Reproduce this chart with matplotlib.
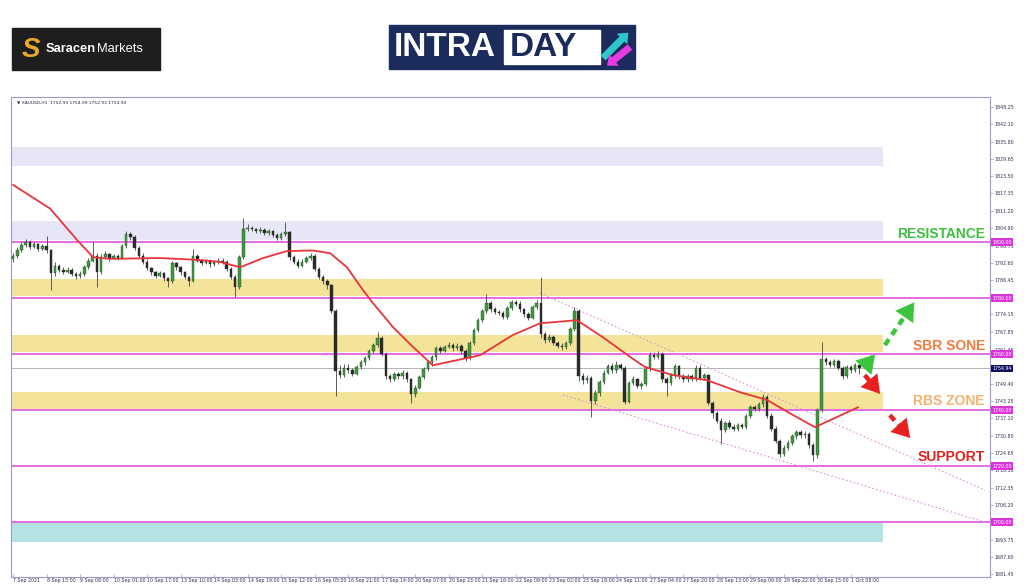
import numpy as np
import matplotlib
matplotlib.use("Agg")
import matplotlib.pyplot as plt
from matplotlib.patches import Rectangle, FancyArrow
from matplotlib import transforms

# ==========
# price data (2h bars)
# ==========
first_open = 1794.0
closes = [
    1795.0, 1797.2, 1799.0, 1800.1, 1798.4, 1799.2, 1797.6, 1798.5, 1797.0, 1789.0,
    1791.5, 1790.2, 1789.4, 1790.0, 1788.6, 1787.8, 1788.5, 1791.0, 1793.4, 1795.2,
    1789.3, 1794.8, 1795.6, 1794.2, 1795.0, 1794.4, 1798.5, 1803.0, 1801.8, 1798.0,
    1795.2, 1793.0, 1790.6, 1789.2, 1788.0, 1788.8, 1787.0, 1786.0, 1792.4, 1791.0,
    1789.2, 1787.4, 1786.2, 1795.2, 1793.4, 1792.6, 1793.2, 1792.0, 1792.8, 1793.4,
    1793.0, 1790.4, 1787.6, 1784.0, 1794.5, 1804.5, 1805.2, 1804.6, 1804.0, 1804.4,
    1803.2, 1803.8, 1802.6, 1801.4, 1802.8, 1803.5, 1794.5, 1793.0, 1791.6, 1793.0,
    1794.2, 1795.0, 1790.5, 1787.6, 1786.0, 1784.6, 1775.5, 1754.0, 1752.6, 1755.0,
    1754.2, 1753.0, 1755.5, 1757.0, 1758.5, 1761.0, 1763.2, 1765.6, 1760.0, 1752.0,
    1751.2, 1752.8, 1752.0, 1753.2, 1751.0, 1745.6, 1748.0, 1751.8, 1754.6, 1757.0,
    1758.8, 1762.0, 1761.2, 1762.6, 1763.4, 1762.0, 1763.0, 1761.0, 1758.6, 1764.0,
    1768.5, 1772.0, 1775.4, 1778.2, 1776.0, 1775.0, 1774.6, 1773.2, 1776.5, 1778.6,
    1778.0, 1776.0, 1774.2, 1773.0, 1776.8, 1778.4, 1767.0, 1765.2, 1766.0, 1764.0,
    1763.0, 1762.6, 1764.0, 1769.0, 1775.4, 1752.2, 1750.6, 1751.4, 1743.2, 1746.0,
    1750.0, 1753.4, 1755.6, 1754.2, 1756.0, 1755.0, 1743.0, 1749.6, 1751.0, 1748.6,
    1749.4, 1754.8, 1759.8, 1759.0, 1760.2, 1751.0, 1749.6, 1752.4, 1755.6, 1752.0,
    1751.0, 1752.0, 1751.2, 1755.2, 1751.6, 1752.4, 1742.6, 1739.0, 1736.2, 1733.0,
    1735.4, 1734.0, 1733.2, 1734.6, 1734.0, 1737.8, 1741.0, 1740.4, 1742.0, 1744.8,
    1738.0, 1733.4, 1729.0, 1724.2, 1726.6, 1728.4, 1730.6, 1732.2, 1731.0, 1731.6,
    1727.4, 1723.8, 1740.0, 1758.2, 1757.0, 1756.2, 1757.4, 1755.0, 1752.0, 1755.4,
    1754.2, 1756.0, 1754.94]
highs = [
    1796.2, 1798.4, 1800.2, 1801.0, 1800.8, 1800.0, 1799.8, 1799.4, 1802.0, 1797.6,
    1793.0, 1792.2, 1791.0, 1791.2, 1790.6, 1789.4, 1789.6, 1791.8, 1794.2, 1800.0,
    1796.0, 1795.6, 1796.8, 1796.2, 1795.8, 1795.6, 1799.2, 1804.0, 1803.6, 1802.4,
    1798.6, 1796.0, 1793.8, 1791.2, 1789.8, 1789.6, 1789.4, 1787.6, 1793.2, 1793.0,
    1791.6, 1789.8, 1788.0, 1797.6, 1795.8, 1794.0, 1794.0, 1793.8, 1793.6, 1794.2,
    1794.2, 1793.6, 1791.0, 1788.2, 1795.4, 1808.6, 1806.4, 1805.8, 1805.2, 1805.4,
    1805.0, 1804.6, 1804.4, 1803.2, 1803.6, 1807.0, 1804.0, 1795.4, 1793.8, 1793.8,
    1795.0, 1796.0, 1795.6, 1791.2, 1788.4, 1786.8, 1785.2, 1776.0, 1756.0, 1756.4,
    1756.6, 1755.0, 1756.2, 1758.0, 1759.4, 1761.8, 1764.0, 1768.0, 1766.4, 1760.6,
    1753.0, 1753.6, 1753.6, 1754.2, 1754.0, 1751.6, 1748.8, 1752.6, 1755.4, 1758.0,
    1759.6, 1763.0, 1762.8, 1763.4, 1764.2, 1764.0, 1763.8, 1763.6, 1761.8, 1764.8,
    1769.2, 1772.8, 1776.2, 1781.6, 1778.8, 1776.8, 1775.8, 1775.4, 1777.2, 1779.4,
    1779.4, 1778.8, 1776.6, 1775.0, 1777.6, 1779.2, 1787.6, 1768.0, 1767.2, 1766.8,
    1764.8, 1764.0, 1764.8, 1769.8, 1776.8, 1776.0, 1753.4, 1752.6, 1752.0, 1747.0,
    1750.8, 1754.2, 1756.4, 1756.8, 1757.6, 1756.8, 1755.6, 1750.4, 1752.0, 1751.6,
    1750.2, 1755.6, 1760.6, 1760.8, 1761.0, 1760.8, 1751.8, 1753.2, 1756.4, 1756.2,
    1752.8, 1752.8, 1752.8, 1756.0, 1756.0, 1753.2, 1753.0, 1743.4, 1739.8, 1737.0,
    1736.2, 1736.6, 1735.0, 1735.4, 1735.4, 1738.6, 1741.8, 1741.8, 1742.8, 1745.6,
    1745.4, 1738.8, 1734.2, 1729.8, 1727.4, 1729.2, 1731.4, 1733.0, 1733.0, 1732.4,
    1732.2, 1728.2, 1740.8, 1764.2, 1759.0, 1757.8, 1758.2, 1758.2, 1755.8, 1756.2,
    1756.0, 1756.8, 1756.4]
lows = [
    1792.8, 1794.4, 1796.6, 1798.2, 1797.6, 1797.8, 1796.8, 1797.0, 1796.0, 1783.0,
    1788.0, 1789.4, 1788.6, 1788.8, 1787.8, 1786.8, 1787.0, 1788.0, 1790.4, 1792.8,
    1784.0, 1788.6, 1794.0, 1793.4, 1793.8, 1793.6, 1794.0, 1798.0, 1800.6, 1797.2,
    1794.4, 1792.2, 1790.0, 1788.4, 1787.2, 1787.4, 1786.2, 1784.0, 1785.4, 1790.2,
    1788.4, 1786.8, 1784.4, 1785.6, 1792.8, 1791.8, 1792.0, 1791.2, 1791.4, 1792.2,
    1792.2, 1789.6, 1786.8, 1780.4, 1783.4, 1794.0, 1803.8, 1803.8, 1803.2, 1803.4,
    1802.6, 1802.6, 1801.8, 1800.6, 1800.8, 1802.0, 1793.6, 1792.2, 1790.8, 1791.0,
    1792.4, 1793.6, 1789.8, 1786.8, 1785.2, 1783.4, 1774.6, 1745.0, 1751.4, 1751.8,
    1753.2, 1752.0, 1752.4, 1754.8, 1756.2, 1757.8, 1760.4, 1762.6, 1759.2, 1751.0,
    1750.2, 1750.4, 1751.2, 1751.2, 1750.2, 1742.6, 1744.8, 1747.4, 1751.0, 1754.0,
    1755.6, 1758.0, 1760.4, 1760.6, 1762.0, 1761.2, 1761.4, 1760.2, 1757.6, 1758.0,
    1763.2, 1767.8, 1771.4, 1774.8, 1775.2, 1774.2, 1773.8, 1772.4, 1772.6, 1775.8,
    1777.2, 1775.2, 1773.4, 1772.2, 1772.4, 1776.0, 1765.8, 1764.0, 1764.4, 1763.2,
    1762.0, 1761.6, 1761.8, 1763.2, 1768.4, 1750.4, 1749.4, 1749.8, 1737.6, 1742.2,
    1745.2, 1749.2, 1752.8, 1753.4, 1753.4, 1754.2, 1742.2, 1742.4, 1748.8, 1747.8,
    1747.6, 1748.6, 1754.0, 1758.2, 1758.2, 1750.2, 1745.0, 1748.8, 1751.6, 1751.2,
    1750.2, 1750.2, 1750.4, 1750.4, 1750.8, 1750.8, 1741.8, 1737.0, 1735.4, 1728.0,
    1732.2, 1733.2, 1732.4, 1732.4, 1733.2, 1733.4, 1737.0, 1739.6, 1739.6, 1741.2,
    1737.2, 1732.6, 1728.2, 1723.4, 1723.6, 1725.8, 1727.6, 1729.8, 1730.2, 1730.2,
    1726.6, 1721.8, 1723.0, 1739.4, 1756.2, 1755.4, 1755.4, 1754.2, 1751.2, 1751.4,
    1753.4, 1753.6, 1752.93]

# moving average read at a few bars
ma_bar = [0, 8.8, 15.3, 19.1, 23.2, 35.1, 44.6, 49.4, 54.2, 59.7, 65.4, 71.6,
          75.7, 79.7, 83.5, 85.9, 90.7, 95.5, 100.2, 111.5, 119.3, 125.8, 134.6,
          140.8, 147.3, 150.8, 157.5, 165.6, 173.5, 180.0, 185.4, 191.4, 201.7]
ma_val = [1820.4, 1812.0, 1800.7, 1794.6, 1794.0, 1794.3, 1793.6, 1792.9, 1791.0,
          1794.3, 1796.8, 1797.0, 1796.0, 1791.0, 1782.9, 1778.2, 1769.6, 1762.5,
          1756.0, 1759.6, 1766.8, 1771.0, 1772.1, 1766.0, 1759.0, 1755.4, 1752.5,
          1750.7, 1746.4, 1743.6, 1738.9, 1733.9, 1741.0]

# channel lines (bar, price)
chan_up_bar = [125.8, 232.0]
chan_up_val = [1781.8, 1711.4]
chan_lo_bar = [131.3, 232.0]
chan_lo_val = [1745.4, 1700.0]

# zones
zone_lo = [1827.1, 1800.7, 1780.7, 1760.7, 1740.4, 1692.9]
zone_hi = [1833.9, 1807.5, 1786.8, 1766.8, 1746.4, 1699.6]
zone_col = ['#e6e6f6', '#e6e6f6', '#f3e49a', '#f3e49a', '#f3e49a', '#b4e3e6']
zone_end = 207.6

levels = [1800.0, 1780.0, 1760.0, 1740.0, 1720.0, 1700.0]
last_price = 1754.94

# (labels hidden behind the level boxes are left out)
yticks = [1848.25, 1842.10, 1835.80, 1829.65, 1823.50, 1817.35, 1811.20,
          1804.90, 1798.75, 1792.60, 1786.45, 1774.15, 1767.85,
          1761.35, 1749.40, 1743.25, 1737.10, 1730.80, 1724.65,
          1718.50, 1712.35, 1706.20, 1693.75, 1687.60, 1681.45]
xlabels = ['7 Sep 2021', '8 Sep 15:00', '9 Sep 08:00', '10 Sep 01:00',
           '10 Sep 17:00', '13 Sep 10:00', '14 Sep 03:00', '14 Sep 19:00',
           '15 Sep 12:00', '16 Sep 05:00', '16 Sep 21:00', '17 Sep 14:00',
           '20 Sep 07:00', '20 Sep 23:00', '21 Sep 16:00', '22 Sep 09:00',
           '23 Sep 02:00', '23 Sep 18:00', '24 Sep 11:00', '27 Sep 04:00',
           '27 Sep 20:00', '28 Sep 13:00', '29 Sep 06:00', '29 Sep 22:00',
           '30 Sep 15:00', '1 Oct 08:00']
bars_per_label = 8

# ==========
# figure
# ==========
W, H = 1024, 587
fig = plt.figure(figsize=(W / 100, H / 100), dpi=100)
fig.patch.set_facecolor('white')
ax = fig.add_axes([11 / W, 1 - 577 / H, (990 - 11) / W, (577 - 97) / H])
ax.set_xlim(-0.5, 233.2)
ax.set_ylim(1680.4, 1851.8)

frame_col = '#9a9ad0'
for s in ax.spines.values():
    s.set_color(frame_col)
    s.set_linewidth(0.8)

# zones
for lo, hi, c in zip(zone_lo, zone_hi, zone_col):
    ax.add_patch(Rectangle((-0.3, lo), zone_end + 0.3, hi - lo, color=c,
                           lw=0, zorder=1))

# levels
for lv in levels:
    ax.axhline(lv, color='#dd44dd', lw=1.1, zorder=2)
ax.axhline(last_price, color='#a8a8a8', lw=0.6, zorder=2)

# channel
ax.plot(chan_up_bar, chan_up_val, color='#e58ee0', lw=0.8, ls=(0, (1.5, 2)),
        zorder=2)
ax.plot(chan_lo_bar, chan_lo_val, color='#e58ee0', lw=0.8, ls=(0, (1.5, 2)),
        zorder=2)

# candles
closes = np.array(closes)
opens = np.concatenate([[first_open], closes[:-1]])
xs = np.arange(len(closes))
up = closes >= opens
ax.vlines(xs, lows, highs, color='#444444', lw=0.6, zorder=3)
body = np.where(np.abs(closes - opens) < 0.3, 0.3, closes - opens)
ax.bar(xs[up], body[up], bottom=opens[up], width=0.6, color='#3f9a3f',
       edgecolor='#1f4f1f', lw=0.3, zorder=4)
ax.bar(xs[~up], body[~up], bottom=opens[~up], width=0.6, color='#2a2a2a',
       edgecolor='#2a2a2a', lw=0.3, zorder=4)

# moving average
ax.plot(ma_bar, ma_val, color='#e8343a', lw=1.3, zorder=5)

# axes ticks
ax.yaxis.tick_right()
ax.set_yticks(yticks)
ax.set_yticklabels([f"{v:.2f}" for v in yticks], fontsize=3.4,
                   color='#333355')
ax.tick_params(axis='y', length=2, width=0.5, color=frame_col, pad=1.5)
xt = np.arange(len(xlabels)) * bars_per_label
ax.set_xticks(xt)
ax.set_xticklabels(xlabels, fontsize=3.4, color='#333355', ha='left')
ax.tick_params(axis='x', length=2, width=0.5, color=frame_col, pad=1,
               direction='in')

ax.text(0.006, 0.992, "\u25bc XAUUSD,H1  1752.93 1754.99 1752.93 1754.94",
        transform=ax.transAxes, fontsize=3.2, va='top', ha='left',
        color='#222244')

# price boxes on the right
trans = transforms.blended_transform_factory(ax.transAxes, ax.transData)
for lv in levels:
    ax.text(1.002, lv, f"{lv:.2f}", transform=trans, fontsize=3.4,
            color='white', va='center', ha='left', clip_on=False,
            bbox=dict(boxstyle='square,pad=0.25', fc='#dd33dd', ec='none'))
ax.text(1.002, last_price, f"{last_price:.2f}", transform=trans, fontsize=3.4,
        color='white', va='center', ha='left', clip_on=False,
        bbox=dict(boxstyle='square,pad=0.25', fc='#101060', ec='none'))

# zone labels
lab_font = dict(family='Liberation Sans', fontweight='bold', fontsize=10,
                ha='right', va='center')
ax.text(232.0, 1802.8, "RESISTANCE", color='#3fbf3f', **lab_font)
ax.text(232.0, 1763.0, "SBR SONE", color='#f07c3e', **lab_font)
ax.text(232.0, 1743.3, "RBS ZONE", color='#f5b370', **lab_font)
ax.text(232.0, 1723.3, "SUPPORT", color='#e3231d', **lab_font)

# arrows
def dashed_arrow(x0, y0, x1, y1, col):
    fx = 0.72
    xm, ym = x0 + (x1 - x0) * fx, y0 + (y1 - y0) * fx
    ax.plot([x0, xm], [y0, ym], color=col, lw=3.2, ls=(0, (1.6, 1.2)),
            solid_capstyle='butt', zorder=6)
    ax.annotate('', xy=(x1, y1), xytext=(xm, ym),
                arrowprops=dict(arrowstyle='-|>,head_length=0.9,head_width=0.55',
                                color=col, lw=0.1, mutation_scale=14),
                zorder=6)


dashed_arrow(208.1, 1763.2, 215.5, 1779.3, '#3cc43c')
dashed_arrow(203.0, 1755.2, 206.2, 1760.6, '#3cc43c')
dashed_arrow(203.3, 1752.5, 207.4, 1745.0, '#e82020')
dashed_arrow(209.3, 1738.2, 214.6, 1729.3, '#e82020')

# ==========
# logos
# ==========
lay = fig.add_axes([0, 0, 1, 1], zorder=-1)
lay.set_xlim(0, W)
lay.set_ylim(H, 0)
lay.axis('off')

lay.add_patch(Rectangle((12, 28), 148, 42, color='#1e1e1e'))
lay.text(31, 50, "S", color='#e8a92c', fontsize=20, fontweight='bold',
         fontstyle='italic', ha='center', va='center',
         family='Liberation Sans')
lay.text(46, 49, "Saracen", color='white', fontsize=9.3, fontweight='bold',
         ha='left', va='center', family='Liberation Sans')
lay.text(97, 49, "Markets", color='white', fontsize=9.3, ha='left',
         va='center', family='Liberation Sans')

navy = '#1b2b5c'
lay.add_patch(Rectangle((389, 25), 246, 44, color=navy))
lay.add_patch(Rectangle((504, 30), 96, 34, color='white'))
lay.text(394, 48, "INTRA", color='white', fontsize=24, fontweight='bold',
         ha='left', va='center', family='Liberation Sans')
lay.text(510, 48, "DAY", color=navy, fontsize=24, fontweight='bold',
         ha='left', va='center', family='Liberation Sans')
lay.add_patch(FancyArrow(603, 58, 19, -19, width=7, head_width=15,
                         head_length=9, color='#2ec6c8', lw=0))
lay.add_patch(FancyArrow(630, 47, -16, 13, width=7, head_width=15,
                         head_length=9, color='#e53be0', lw=0))

fig.savefig('out.png', dpi=100)
